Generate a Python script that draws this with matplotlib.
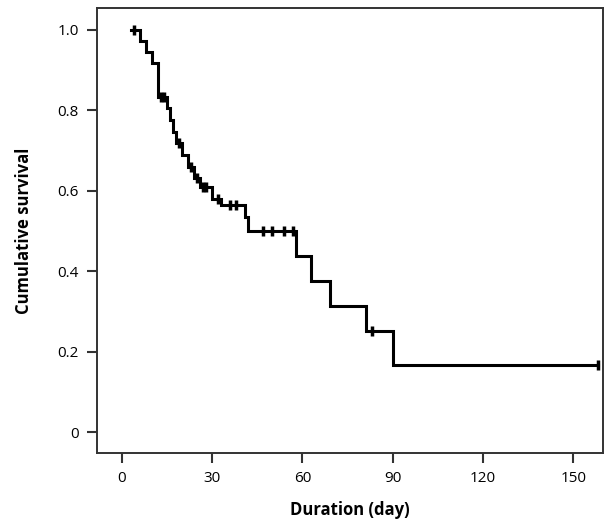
import numpy as np
import matplotlib
matplotlib.use("Agg")
import matplotlib.pyplot as plt

# Kaplan-Meier curve: step times (day) and survival after each step
step_days = [3, 6, 8, 10, 12, 15, 16, 17, 18, 20, 22, 24, 26, 30, 33, 41, 42, 58, 63, 69, 81, 90]
step_surv = [1.0, 0.972, 0.944, 0.917, 0.833, 0.805, 0.776, 0.747, 0.718, 0.689, 0.660,
             0.631, 0.610, 0.580, 0.565, 0.535, 0.500, 0.4375, 0.375, 0.3125, 0.25, 0.1667]
end_day = 158

# censored observations (day)
censor_days = [4, 13, 14, 19, 23, 25, 27, 28, 32, 36, 38, 47, 50, 54, 57, 83, 158]

x_ticks = [0, 30, 60, 90, 120, 150]
y_ticks = [0, 0.2, 0.4, 0.6, 0.8, 1.0]
y_labels = ["0", "0.2", "0.4", "0.6", "0.8", "1.0"]

plt.rcParams["font.family"] = ["Open Sans", "DejaVu Sans"]

fig = plt.figure(figsize=(6.1, 5.2), dpi=100)
ax = fig.add_axes([0.159, 0.129, 0.8295, 0.856])

days = np.array(step_days + [end_day])
surv = np.array(step_surv + [step_surv[-1]])
ax.step(days, surv, where="post", color="black", lw=2.2, solid_joinstyle="miter")

# survival at censoring times
idx = np.searchsorted(np.array(step_days), censor_days, side="right") - 1
c_surv = np.array(step_surv)[idx]
ax.plot(censor_days, c_surv, linestyle="none", marker="|", markersize=7,
        markeredgewidth=2.5, color="black")

ax.set_xlim(-8.2, 159.8)
ax.set_ylim(-0.052, 1.055)
ax.set_xticks(x_ticks)
ax.set_yticks(y_ticks)
ax.set_yticklabels(y_labels)
ax.tick_params(direction="out", length=7, width=1.5, colors="#333333",
               labelcolor="black", labelsize=11, pad=6)
for s in ax.spines.values():
    s.set_linewidth(1.4)
    s.set_color("#333333")

ax.set_xlabel("Duration (day)", fontsize=12, fontweight="bold", labelpad=11)
ax.set_ylabel("Cumulative survival", fontsize=12, fontweight="bold", labelpad=18)

fig.savefig("out.png", dpi=100)
